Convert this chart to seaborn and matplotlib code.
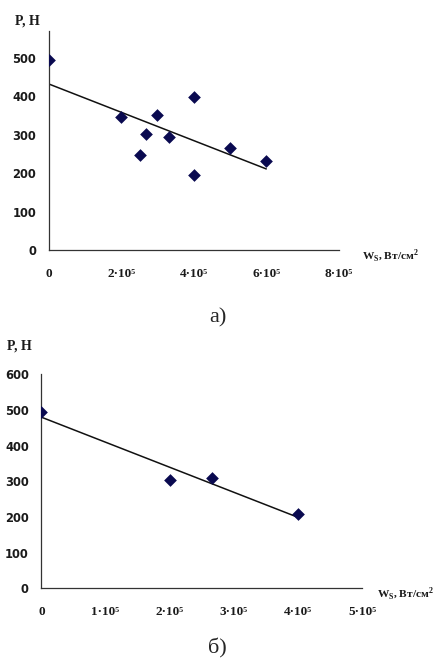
import numpy as np
import pandas as pd
import seaborn as sns
import matplotlib
matplotlib.use('Agg')
import matplotlib.pyplot as plt

# panel a) : power density W_s (W/cm^2) vs force P (N)
ws_a = [0, 2.0e5, 2.52e5, 2.68e5, 3.0e5, 3.33e5, 4.0e5, 4.0e5, 5.0e5, 6.0e5]
p_a = [494, 346, 247, 302, 351, 294, 399, 194, 266, 232]
xticks_a = [0, 2e5, 4e5, 6e5, 8e5]
xlabels_a = ['0', '2·10⁵', '4·10⁵', '6·10⁵', '8·10⁵']
yticks_a = [0, 100, 200, 300, 400, 500]

# panel б)
ws_b = [0, 2.0e5, 2.66e5, 4.0e5]
p_b = [493, 303, 308, 207]
xticks_b = [0, 1e5, 2e5, 3e5, 4e5, 5e5]
xlabels_b = ['0', '1·10⁵', '2·10⁵', '3·10⁵', '4·10⁵', '5·10⁵']
yticks_b = [0, 100, 200, 300, 400, 500, 600]

sns.set_style('white')
plt.rcParams['font.family'] = ['DejaVu Sans']
SERIF = ['Liberation Serif', 'DejaVu Serif']
NAVY = '#0a0a50'
TXT = '#1a1a1a'


def drawPanel(fig, rect, ws, p, xticks, xlabels, yticks, ylim, caption, cap_y, wx, py):
    ax = fig.add_axes(rect)
    df = pd.DataFrame({'ws': ws, 'p': p})
    sns.regplot(data=df, x='ws', y='p', ax=ax, ci=None, truncate=True, marker='D',
                scatter_kws={'s': 42, 'color': NAVY, 'alpha': 1, 'zorder': 3, 'linewidths': 0},
                line_kws={'color': '#111111', 'lw': 1.1, 'zorder': 2})
    ax.set_xlim(xticks[0], xticks[-1])
    ax.set_ylim(*ylim)
    ax.set_xticks(xticks)
    ax.set_xticklabels(xlabels, fontfamily=SERIF, fontsize=9.5, fontweight='bold', color=TXT)
    ax.set_yticks(yticks)
    ax.set_yticklabels([str(v) for v in yticks], fontsize=8.3, fontweight='bold', color=TXT)
    ax.tick_params(axis='x', direction='out', length=5, width=0.9, color='#333333', pad=8)
    ax.tick_params(axis='y', direction='out', length=4, width=0.9, color='#333333', pad=5)
    for s in ('top', 'right'):
        ax.spines[s].set_visible(False)
    for s in ('left', 'bottom'):
        ax.spines[s].set_color('#333333')
        ax.spines[s].set_linewidth(0.9)
    ax.set_xlabel('')
    ax.set_ylabel('')
    ax.text(-0.03, py, 'P, H', transform=ax.transAxes, ha='right', va='bottom',
            fontfamily=SERIF, fontsize=10, fontweight='bold', color=TXT)
    ax.text(wx, -0.025, r'W$_\mathregular{S}$, Вт/см$^\mathregular{2}$', transform=ax.transAxes,
            ha='left', va='center', fontfamily=SERIF, fontsize=8.2, fontweight='bold', color=TXT)
    fig.text(0.5, cap_y, caption, ha='center', va='center', fontfamily=SERIF, fontsize=16)
    return ax


fig = plt.figure(figsize=(4.35, 6.62), dpi=100)
drawPanel(fig, [0.1115, 0.6224, 0.6675, 0.3306], ws_a, p_a, xticks_a, xlabels_a, yticks_a,
          (0, 570), 'а)', 1 - 318 / 662, 1.08, 1.015)
drawPanel(fig, [0.095, 0.1113, 0.738, 0.3233], ws_b, p_b, xticks_b, xlabels_b, yticks_b,
          (0, 600), 'б)', 1 - 648 / 662, 1.045, 1.10)
fig.savefig('out.png', dpi=100)
